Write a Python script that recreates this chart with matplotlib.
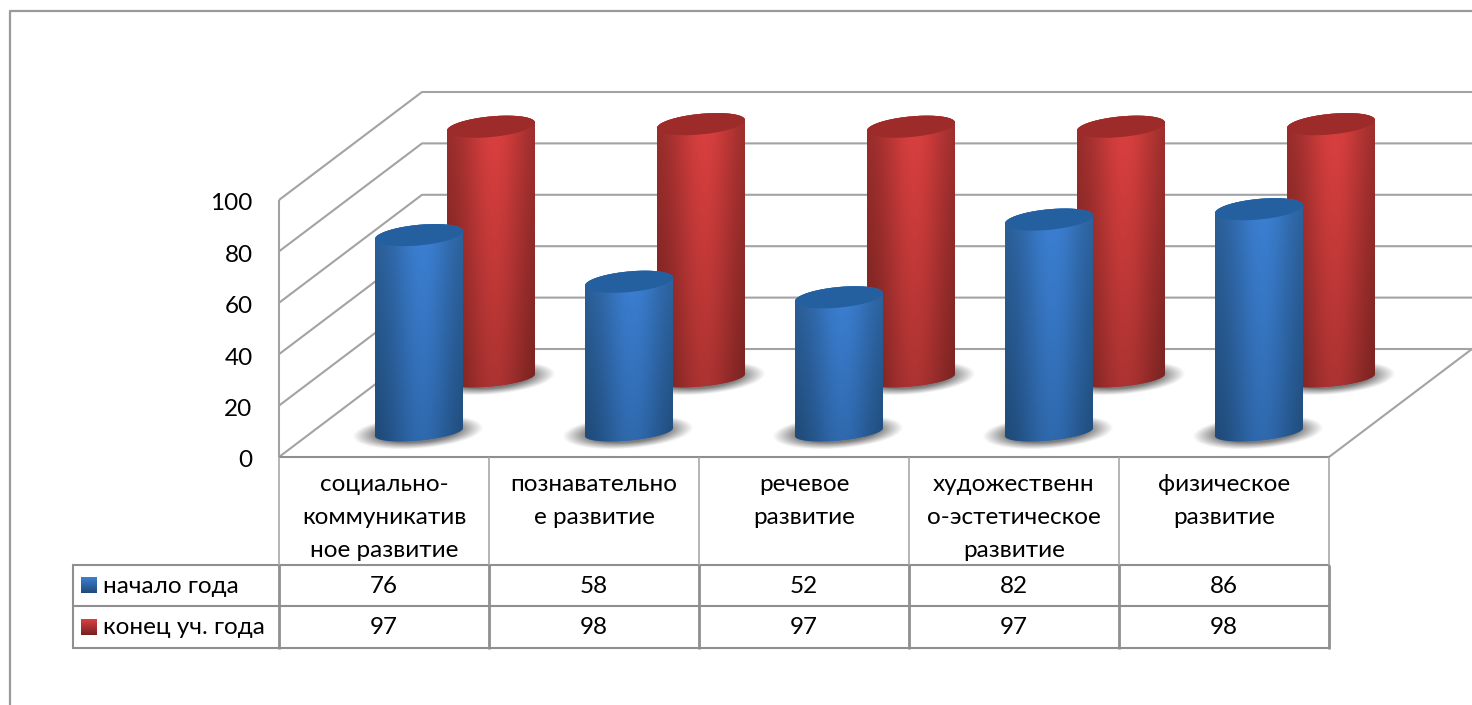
import numpy as np
import matplotlib
matplotlib.use('Agg')
import matplotlib.pyplot as plt
from matplotlib.patches import Polygon
from matplotlib.transforms import ScaledTranslation

categories = ['социально-\nкоммуникатив\nное развитие', 'познавательно\nе развитие', 'речевое\nразвитие',
              'художественн\nо-эстетическое\nразвитие', 'физическое\nразвитие']
names = ['начало года', 'конец уч. года']
start_year = [76, 58, 52, 82, 86]
end_year = [97, 98, 97, 97, 98]
ticks = [0, 20, 40, 60, 80, 100]

W, H = 1472, 705
X0, X_STEP = 279, 210     # pixel of first category edge, pixels per category
Y0, Y_STEP = 457, 2.57    # pixel of value 0, pixels per value unit
DEPTH_X, DEPTH_Y = 143, 108
GRID = '#a3a3a3'
TABLE = '#8f8f8f'
FONT_SIZE = 17.5
BLUE = {'top': '#24609f', 'hi': '#3c80d4', 'lo': '#2f69ad', 'edge_hi': '#2c6099', 'edge_lo': '#1f4a78'}
RED = {'top': '#9c2b29', 'hi': '#dc4040', 'lo': '#ab3331', 'edge_hi': '#9a2e2c', 'edge_lo': '#752220'}

plt.rcParams['font.family'] = ['Lato', 'Noto Sans', 'DejaVu Sans']


def px_x(p):
    return (p - X0) / X_STEP


def px_y(p):
    return (Y0 - p) / Y_STEP


def rgb(c):
    return np.array(matplotlib.colors.to_rgb(c))


def ring(cx, cy, b, a=44, tilt=4):
    # sheared ellipse in pixels, the 3d view makes it rise to the right
    t = np.linspace(0, 2 * np.pi, 121)
    return cx + a * np.cos(t), cy - b * np.sin(t) - tilt * np.cos(t), t


def shaded(colors, nx=90, ny=60):
    u = np.linspace(-1, 1, nx)
    v = np.linspace(0, 1, ny)[:, None, None]
    glow = np.exp(-((u - 0.08) / 0.72) ** 2)[None, :, None]
    glow = (glow - glow.min()) / (glow.max() - glow.min())
    hi = rgb(colors['hi']) * (1 - v) + rgb(colors['lo']) * v
    edge = rgb(colors['edge_hi']) * (1 - v) + rgb(colors['edge_lo']) * v
    return edge * (1 - glow) + hi * glow


def shadow(ax, cx, cy):
    gx, gy = np.meshgrid(np.linspace(-1, 1, 80), np.linspace(-1, 1, 40))
    gy = gy + 0.27 * gx
    r = np.sqrt(gx ** 2 + gy ** 2)
    img = np.ones((40, 80, 4)) * 0.4
    img[..., 3] = np.clip((1 - r) * 2.2, 0, 0.85)
    ax.imshow(img, extent=[px_x(cx - 66), px_x(cx + 66), px_y(cy + 17), px_y(cy - 17)],
              origin='upper', aspect='auto', interpolation='bilinear', zorder=2)


def cylinder(ax, pos, value, depth_x, depth_y, colors, z):
    cx = X0 + (pos + 0.5) * X_STEP + depth_x
    base = Y0 - depth_y
    top = base - value * Y_STEP * 1.008
    shadow(ax, cx - 1, base)
    xb, yb, t = ring(cx, base, 8.5)
    xt, yt, _ = ring(cx, top, 10.3)
    # body outline: lower half of the base ring, then upper half of the top ring
    low = t >= np.pi
    up = t <= np.pi
    xs = np.r_[xb[low], xt[up]]
    ys = np.r_[yb[low], yt[up]]
    body = Polygon(np.c_[px_x(xs), px_y(ys)], closed=True, fc=colors['lo'], ec='none', zorder=z)
    ax.add_patch(body)
    im = ax.imshow(shaded(colors), extent=[px_x(cx - 44), px_x(cx + 44), px_y(base + 12), px_y(top - 12)],
                   origin='upper', aspect='auto', interpolation='bilinear', zorder=z + 0.1)
    im.set_clip_path(body)
    ax.add_patch(Polygon(np.c_[px_x(xt), px_y(yt)], closed=True, fc=colors['top'], ec='none', zorder=z + 0.2))


def swatch(ax, y, colors):
    ax.imshow(shaded({'hi': colors['hi'], 'lo': colors['edge_lo'], 'edge_hi': colors['hi'],
                      'edge_lo': colors['edge_lo']}),
              extent=[px_x(81), px_x(97), px_y(y + 8), px_y(y - 8)],
              origin='upper', aspect='auto', zorder=5)


def pline(ax, xs, ys, color, lw, z=1):
    ax.plot(px_x(np.array(xs, float)), px_y(np.array(ys, float)), color=color, lw=lw, zorder=z,
            solid_capstyle='butt')


def main():
    fig = plt.figure(figsize=(W / 100, H / 100), dpi=100)
    ax = fig.add_axes([0, 0, 1, 1])

    # outer frame of the embedded chart
    pline(ax, [9.5, 9.5, W + 5], [H + 5, 11, 11], '#9a9a9a', 1.6)

    # walls and floor
    for tick in ticks:
        y = Y0 - tick * Y_STEP
        pline(ax, [X0, X0 + DEPTH_X, W + 5], [y, y - DEPTH_Y, y - DEPTH_Y], GRID, 1.5)
    pline(ax, [X0, X0], [Y0, Y0 - 100 * Y_STEP], GRID, 1.5)
    pline(ax, [1329, 1329 + DEPTH_X], [Y0, Y0 - DEPTH_Y], GRID, 1.5)

    # bars, back row first
    for i, v in enumerate(end_year):
        cylinder(ax, i, v, 107, 79, RED, 3)
    for i, v in enumerate(start_year):
        cylinder(ax, i, v, 35, 25, BLUE, 4)

    # data table
    for y, x_start in [(457.5, X0), (565, 72), (606, 72), (648, 72)]:
        pline(ax, [x_start, 1330], [y, y], TABLE, 1.5, 6)
    pline(ax, [73, 73], [565, 649], TABLE, 1.5, 6)
    for i in range(len(categories) + 1):
        x = X0 + i * X_STEP
        pline(ax, [x, x], [457, 565], '#a8a8a8', 1.2, 6)
        pline(ax, [x, x], [565, 649], TABLE, 2, 6)

    for i, label in enumerate(categories):
        x = px_x(X0 + (i + 0.5) * X_STEP)
        ax.text(x, px_y(474), label, ha='center', va='top', fontsize=FONT_SIZE, linespacing=1.7, color='black')
        ax.text(x, px_y(586.5), str(start_year[i]), ha='center', va='center', fontsize=FONT_SIZE, color='black')
        ax.text(x, px_y(627.5), str(end_year[i]), ha='center', va='center', fontsize=FONT_SIZE, color='black')

    swatch(ax, 585, BLUE)
    swatch(ax, 627, RED)
    ax.text(px_x(103), px_y(586.5), names[0], ha='left', va='center', fontsize=FONT_SIZE, color='black')
    ax.text(px_x(103), px_y(627.5), names[1], ha='left', va='center', fontsize=FONT_SIZE, color='black')

    # value axis
    ax.set_xlim(px_x(0), px_x(W))
    ax.set_ylim(px_y(H), px_y(0))
    for spine in ax.spines.values():
        spine.set_visible(False)
    ax.spines['left'].set_position(('data', 0))
    ax.set_yticks(ticks)
    ax.tick_params(axis='y', length=0, pad=19, labelsize=FONT_SIZE, labelcolor='black')
    nudge = ScaledTranslation(0, -2 / 100, fig.dpi_scale_trans)
    for lab in ax.get_yticklabels():
        lab.set_transform(lab.get_transform() + nudge)
    ax.set_xticks([])
    ax.patch.set_alpha(0)

    fig.savefig('out.png', dpi=100, facecolor='white')


if __name__ == '__main__':
    main()
